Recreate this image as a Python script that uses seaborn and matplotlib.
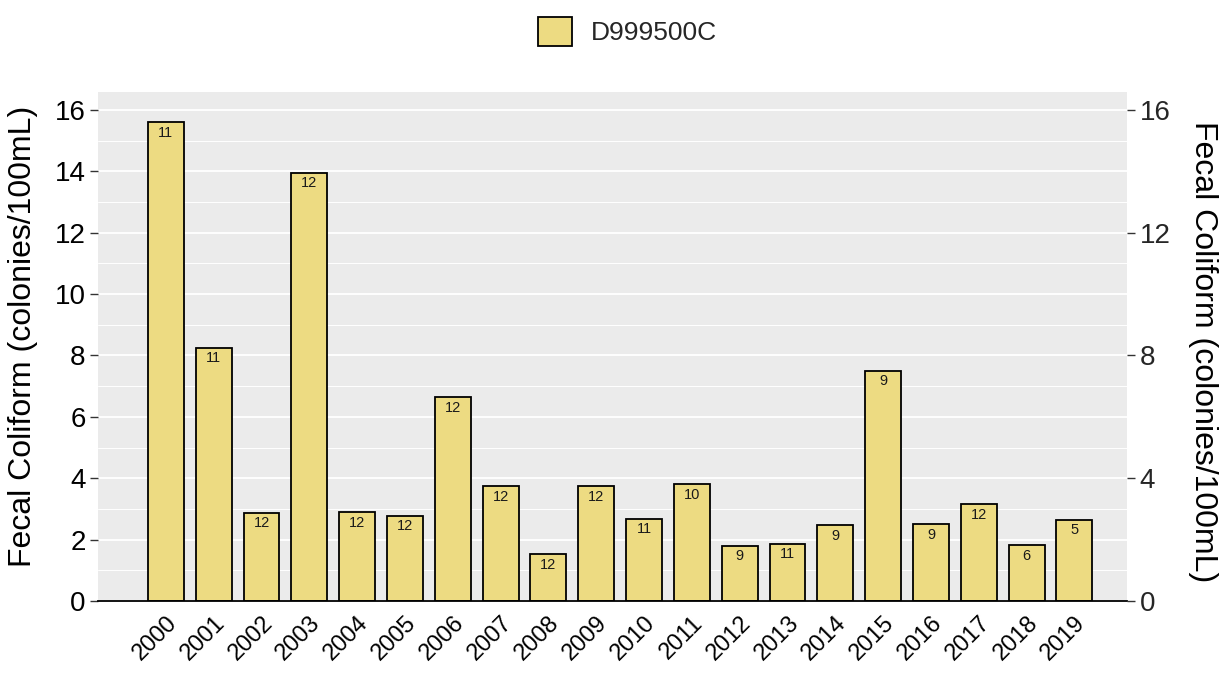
import pandas as pd
import matplotlib.pyplot as plt
import seaborn as sns
from matplotlib.ticker import MultipleLocator

# Data
years = [str(y) for y in range(2000, 2020)]
fecal = [15.6, 8.25, 2.88, 13.95, 2.9, 2.78, 6.65, 3.75, 1.53, 3.75,
         2.68, 3.81, 1.8, 1.87, 2.47, 7.5, 2.5, 3.15, 1.83, 2.65]
counts = [11, 11, 12, 12, 12, 12, 12, 12, 12, 12,
          11, 10, 9, 11, 9, 9, 9, 12, 6, 5]
site = "D999500C"

df = pd.DataFrame({"year": years, "value": fecal, "n": counts, "site": site})

sns.set_style("darkgrid", {"axes.facecolor": "#EBEBEB", "grid.color": "white"})
plt.rcParams["font.family"] = ["Liberation Sans", "DejaVu Sans"]

fig = plt.figure(figsize=(12.25, 6.75), dpi=100)
ax = fig.add_axes([0.08, 0.1096, 0.84, 0.7541])

sns.barplot(data=df, x="year", y="value", hue="site", palette=["#EDDB82"],
            saturation=1, edgecolor="black", linewidth=1.3, width=0.75, ax=ax)

# count labels inside top of each bar
for i, (v, n) in enumerate(zip(fecal, counts)):
    ax.text(i, v - 0.12, str(n), ha="center", va="top", fontsize=10.5, color="#1a1a1a")

ax.set_xlim(-1.42, 20.1)
ax.set_ylim(0, 16.58)
ax.yaxis.set_major_locator(MultipleLocator(2))
ax.yaxis.set_minor_locator(MultipleLocator(1))
ax.grid(which="major", axis="y", color="white", linewidth=1.3)
ax.grid(which="minor", axis="y", color="white", linewidth=0.7)
ax.grid(axis="x", visible=False)
ax.set_axisbelow(True)

for s in ["left", "right", "top"]:
    ax.spines[s].set_visible(False)
ax.spines["bottom"].set_visible(True)
ax.spines["bottom"].set_color("black")
ax.spines["bottom"].set_linewidth(1.3)

ax.tick_params(axis="both", which="major", length=6, width=1, color="#333333",
               labelsize=20, labelcolor="black", pad=3)
ax.tick_params(axis="y", which="minor", length=0)
ax.tick_params(axis="x", labelsize=17, pad=2)
plt.setp(ax.get_xticklabels(), rotation=45, ha="right", rotation_mode="anchor")

ax.set_xlabel("")
ax.set_ylabel("Fecal Coliform (colonies/100mL)", fontsize=23, color="black")
ax.yaxis.set_label_coords(-0.058, 0.52)

# secondary axis on the right
ax2 = ax.twinx()
ax2.set_ylim(ax.get_ylim())
ax2.set_yticks([0, 4, 8, 12, 16])
ax2.grid(False)
for s in ax2.spines.values():
    s.set_visible(False)
ax2.tick_params(axis="y", length=6, width=1, color="#333333", labelsize=20, pad=3)
ax2.set_ylabel("Fecal Coliform (colonies/100mL)", fontsize=23, rotation=270,
               rotation_mode="anchor", va="bottom", ha="center", color="black")
ax2.yaxis.set_label_coords(1.059, 0.49)

handles, labels = ax.get_legend_handles_labels()
ax.legend_.remove()
fig.legend(handles, labels, loc="upper center", bbox_to_anchor=(0.512, 1.01),
           frameon=False, fontsize=19, handlelength=1.3, handleheight=1.3,
           handletextpad=0.7)

fig.savefig("out.png", dpi=100)
